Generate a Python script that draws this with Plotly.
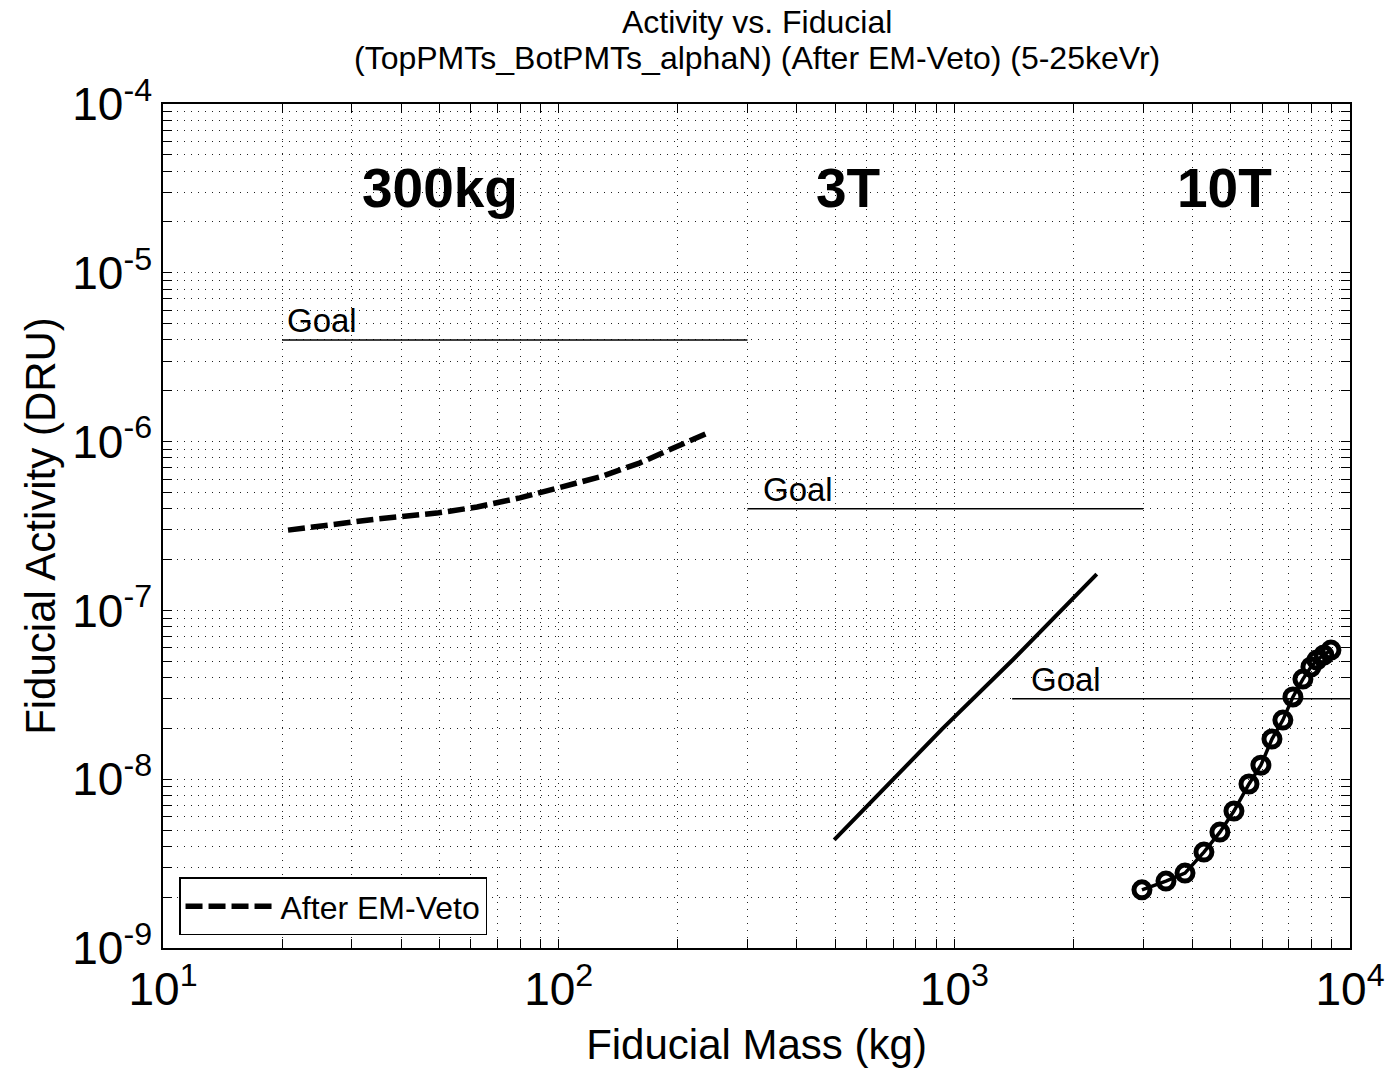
import math
import plotly.graph_objects as go

# ---- data ----
veto_mass = [20.7, 34.8, 49.2, 62.2, 79.8, 100.7, 127, 160, 199, 237]
veto_act = [2.99e-7, 3.48e-7, 3.77e-7, 4.10e-7, 4.64e-7, 5.31e-7, 6.17e-7, 7.46e-7, 9.29e-7, 1.12e-6]

t3_mass = [497, 935, 1406, 2291]
t3_act = [4.37e-9, 2.0e-8, 5.1e-8, 1.64e-7]

t10_mass = [2980, 3427, 3828, 4274, 4690, 5090, 5555, 5954, 6350, 6766, 7173, 7603, 7966, 8245, 8590, 8950]
t10_act = [2.21e-9, 2.49e-9, 2.78e-9, 3.70e-9, 4.86e-9, 6.48e-9, 9.37e-9, 1.21e-8, 1.73e-8, 2.24e-8,
           3.07e-8, 3.92e-8, 4.62e-8, 5.08e-8, 5.44e-8, 5.82e-8]

goal_x = [[20, 300], [300, 3000], [1400, 10000]]
goal_y = [4e-6, 4e-7, 3e-8]
goal_label_x = [20.6, 328, 1563]

region_labels = ["300kg", "3T", "10T"]
region_x = [50, 538, 4830]
region_y = 3.2e-5

title_lines = ["Activity vs. Fiducial", "(TopPMTs_BotPMTs_alphaN) (After EM-Veto) (5-25keVr)"]

x_exps = [1, 2, 3, 4]
y_exps = [-9, -8, -7, -6, -5, -4]

FONT = "Liberation Sans, Arial, sans-serif"

def log_ticks(exps):
    vals, text = [], []
    for e in exps:
        vals.append(10.0 ** e)
        text.append("10<sup>%d</sup>" % e)
        if e != exps[-1]:
            for m in range(2, 10):
                vals.append(m * 10.0 ** e)
                text.append("")
    return vals, text

xv, xt = log_ticks(x_exps)
yv, yt = log_ticks(y_exps)

fig = go.Figure()

for gx, gy, lx in zip(goal_x, goal_y, goal_label_x):
    fig.add_trace(go.Scatter(x=gx, y=[gy, gy], mode="lines", line=dict(color="black", width=1.5),
                             showlegend=False, hoverinfo="skip"))
    fig.add_annotation(x=math.log10(lx), y=math.log10(gy), xref="x", yref="y", text="Goal",
                       showarrow=False, xanchor="left", yanchor="bottom", xshift=-2, yshift=-1,
                       font=dict(family=FONT, size=33, color="black"))

fig.add_trace(go.Scatter(x=veto_mass, y=veto_act, mode="lines", name="After EM-Veto",
                         line=dict(color="black", width=5.5, dash="17px,6px")))
fig.add_trace(go.Scatter(x=t3_mass, y=t3_act, mode="lines", showlegend=False,
                         line=dict(color="black", width=4)))
fig.add_trace(go.Scatter(x=t10_mass, y=t10_act, mode="lines+markers", showlegend=False,
                         line=dict(color="black", width=3.5),
                         marker=dict(symbol="circle-open", size=16, color="black",
                                     line=dict(width=5, color="black"))))

for lab, lx in zip(region_labels, region_x):
    fig.add_annotation(x=math.log10(lx), y=math.log10(region_y), xref="x", yref="y",
                       text="<b>%s</b>" % lab, showarrow=False, xanchor="center", yanchor="middle",
                       font=dict(family="Liberation Sans Narrow, Arial Narrow, " + FONT, size=55, color="black"))

for txt, py in zip(title_lines, [1.097, 1.0545]):
    fig.add_annotation(x=0.5, y=py, xref="paper", yref="paper", text=txt, showarrow=False,
                       xanchor="center", yanchor="middle",
                       font=dict(family=FONT, size=32, color="black"))

axis_common = dict(type="log", showline=True, linecolor="black", linewidth=1.5, mirror="ticks",
                   ticks="inside", ticklen=9, tickcolor="black", tickwidth=1,
                   showgrid=True, gridcolor="#222", gridwidth=1, griddash="1px,6px",
                   zeroline=False, tickfont=dict(family=FONT, size=46, color="black"))

fig.update_xaxes(range=[1, 4], tickvals=xv, ticktext=xt,
                 title=dict(text="Fiducial Mass (kg)", font=dict(family=FONT, size=42, color="black"), standoff=16),
                 **axis_common)
fig.update_yaxes(range=[-9, -4], tickvals=yv, ticktext=yt,
                 title=dict(text="Fiducial Activity (DRU)", font=dict(family=FONT, size=42, color="black"), standoff=4),
                 **axis_common)

fig.update_layout(
    width=1399, height=1073,
    margin=dict(l=163, r=49, t=104, b=125),
    plot_bgcolor="white", paper_bgcolor="white",
    legend=dict(x=0.0135, y=0.015, xanchor="left", yanchor="bottom", bgcolor="white",
                bordercolor="black", borderwidth=1.5, itemwidth=90,
                font=dict(family=FONT, size=32, color="black")),
    showlegend=True,
)

fig.write_html("out.html")
